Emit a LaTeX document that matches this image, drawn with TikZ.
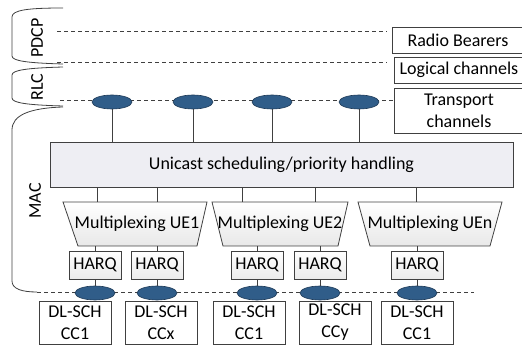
\documentclass[tikz,border=0pt]{standalone}
\usepackage{fontspec}
\setmainfont{Carlito}
\usetikzlibrary{shapes.geometric}
\definecolor{linec}{HTML}{404040}
\definecolor{ellfill}{HTML}{305D89}
\definecolor{elldraw}{HTML}{1E3A57}
\definecolor{bigfill}{HTML}{EEEEF3}
\begin{document}
\begin{tikzpicture}[x=1pt,y=-1pt,font=\fontsize{18}{22}\selectfont,
  ln/.style={draw=linec,line width=0.8pt},
  dsh/.style={ln,dash pattern=on 4pt off 3pt},
  box/.style={ln,fill=white,inner sep=0pt,align=center},
  harq/.style={box,top color=white,bottom color=black!8,minimum width=52pt,minimum height=28pt},
  dl/.style={box,minimum width=72pt,minimum height=43pt},
  chan/.style={ellipse,draw=elldraw,fill=ellfill,line width=0.6pt,minimum width=40pt,minimum height=14pt,inner sep=0pt},
  trap/.style={ln,top color=white,bottom color=black!9},
  brace/.style={ln}]
\useasboundingbox (0,0) rectangle (522,347);
\clip (0,0) rectangle (522,347);

% layer braces and labels
\draw[brace] (63,8) .. controls (28,8) and (12,10) .. (12,17) -- (12,56) .. controls (12,61) and (28,63) .. (63,64);
\draw[brace] (63,67) .. controls (28,68) and (12,70) .. (12,75) -- (12,98) .. controls (12,103) and (28,105) .. (63,106);
\draw[brace] (63,107) .. controls (30,108) and (12,115) .. (12,130) -- (12,281) .. controls (12,289) and (22,292) .. (37,292);
\node[rotate=90] (pdcp) at (37,38) {PDCP};
\node[rotate=90] (rlc) at (37,87) {RLC};
\node[rotate=90] (mac) at (35,201) {MAC};

% right-hand labels
\node[box,minimum width=132pt,minimum height=26pt] (rb) at (458,40) {Radio Bearers};
\node[box,minimum width=130pt,minimum height=26pt] (lc) at (459,70) {Logical channels};
\node[box,minimum width=130pt,minimum height=45pt] (tc) at (459,110.5) {Transport\\channels};

% dashed layer lines
\coordinate (pd) at (57,31);
\coordinate (pdE) at (387,31);
\coordinate (lg) at (57,62);
\coordinate (lgE) at (387,62);
\coordinate (tr) at (60,100);
\coordinate (bt) at (37,292);
\coordinate (btE) at (474,292);
\draw[dsh] (pd) -- (pdE);
\draw[dsh] (lg) -- (lgE);
\draw[dsh] (tr) -- (tr -| tc.west);
\draw[dsh] (bt) -- (btE);

% scheduler
\node[box,fill=bigfill,minimum width=463pt,minimum height=45pt] (big) at (281.5,164.5) {Unicast scheduling/priority handling};

% transport channels above
\foreach \n/\x in {t1/112,t2/193,t3/272,t4/359}{
  \node[chan] (\n) at (\x,102) {};
  \draw[ln] (\n.south) -- (\n.south |- big.north);
}

% multiplexing trapezoids
\draw[trap] (63,202) -- (207,202) -- (197,246) -- (78,246) -- cycle;
\draw[trap] (212,202) -- (348,202) -- (338,246) -- (223,246) -- cycle;
\draw[trap] (358,202) -- (502,202) -- (490,246) -- (370,246) -- cycle;
\node (m1) at (137,224) {Multiplexing UE1};
\node (m2) at (280,224) {Multiplexing UE2};
\node (mn) at (430,224) {Multiplexing UEn};

\foreach \n/\x in {a1/97,a2/157,a3/242,a4/315,a5/416}{
  \coordinate (\n) at (\x,202);
  \draw[ln] (\n |- big.south) -- (\n);
}

% HARQ, channels, DL-SCH
\foreach \n/\x in {1/95,2/157,3/257,4/320,5/417}{
  \node[harq] (h\n) at (\x,265) {HARQ};
  \draw[ln] (h\n.north) -- ++(0,-5);
  \node[chan] (b\n) at (\x,293) {};
  \draw[ln] (h\n.south) -- (b\n.north);
}
\node[dl] (d1) at (75,322.5) {DL-SCH\\CC1};
\node[dl] (d2) at (161,322.5) {DL-SCH\\CCx};
\node[dl] (d3) at (249,322.5) {DL-SCH\\CC1};
\node[dl] (d4) at (335,322.5) {DL-SCH\\CCy};
\node[dl] (d5) at (417,322.5) {DL-SCH\\CC1};
\end{tikzpicture}
\end{document}
